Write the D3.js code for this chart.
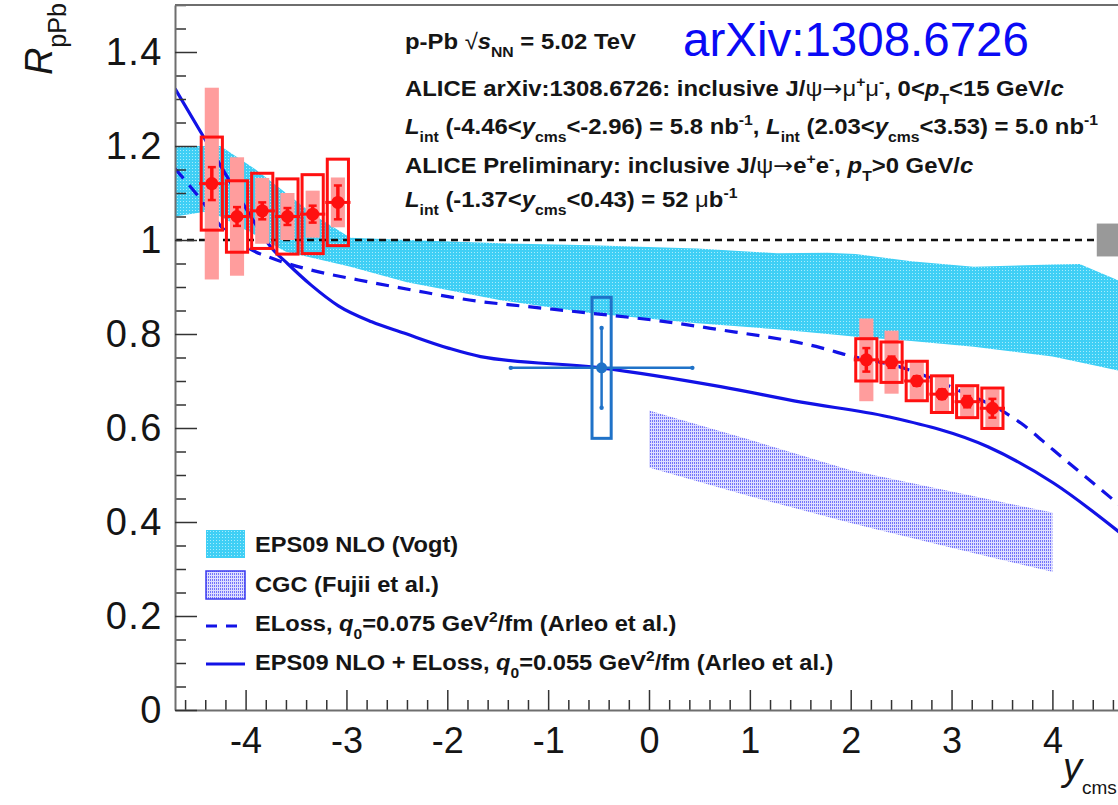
<!DOCTYPE html>
<html>
<head>
<meta charset="utf-8">
<script src="https://cdn.jsdelivr.net/npm/d3@7"></script>
<style>
  html, body { margin: 0; padding: 0; background: #ffffff; }
  svg { display: block; font-family: "Liberation Sans", Arial, Helvetica, sans-serif; }
</style>
</head>
<body>
<svg id="chart" width="1118" height="805"></svg>
<script>
// ---------------- data ----------------
// Axis ticks
const xMajorTicks = [-4, -3, -2, -1, 0, 1, 2, 3, 4];
const yMajorTicks = [0, 0.2, 0.4, 0.6, 0.8, 1.0, 1.2, 1.4];

// EPS09 NLO (Vogt) band
const eps09X     = [-4.7, -4.4, -4.25, -3.9, -3.6, -3.3, -2.96, -2.4, -1.47, -0.57, 0.48, 1.27, 1.77, 2.05, 2.6, 3.22, 4.0, 4.27, 4.7];
const eps09Lower = [1.05, 1.06, 1.05, 1.01, 0.975, 0.96, 0.943, 0.91, 0.872, 0.844, 0.823, 0.81, 0.80, 0.794, 0.785, 0.773, 0.752, 0.74, 0.72];
const eps09Upper = [1.20, 1.20, 1.20, 1.15, 1.10, 1.05, 1.005, 1.0, 0.993, 0.989, 0.982, 0.972, 0.973, 0.97, 0.955, 0.943, 0.948, 0.949, 0.91];

// CGC (Fujii et al.) band
const cgcX     = [0, 1, 2, 3, 4];
const cgcLower = [0.516, 0.455, 0.398, 0.345, 0.294];
const cgcUpper = [0.637, 0.575, 0.51, 0.465, 0.42];

// ELoss q0 = 0.075 (Arleo et al.)
const elossX = [-4.7, -4.44, -4.24, -3.94, -3.75, -3.35, -2.88, -2.36, -1.67, -1.37, -0.57, 0.10, 0.61, 1.70, 1.97, 2.53, 2.76, 3.06, 3.49, 3.69, 4.01, 4.7];
const elossY = [1.152, 1.085, 1.028, 0.979, 0.962, 0.936, 0.915, 0.894, 0.869, 0.862, 0.844, 0.828, 0.812, 0.771, 0.755, 0.727, 0.709, 0.681, 0.638, 0.61, 0.553, 0.43];

// EPS09 NLO + ELoss q0 = 0.055 (Arleo et al.)
const epsElossX = [-4.7, -4.41, -4.14, -3.89, -3.75, -3.58, -3.35, -3.08, -2.75, -2.43, -1.99, -1.67, -0.48, 0.71, 1.51, 2.37, 3.36, 4.01, 4.7];
const epsElossY = [1.322, 1.217, 1.119, 1.030, 0.985, 0.949, 0.904, 0.860, 0.826, 0.802, 0.770, 0.752, 0.728, 0.688, 0.655, 0.624, 0.560, 0.483, 0.372];

// ALICE J/psi -> mu+mu-, backward rapidity
const bwdX       = [-4.335, -4.085, -3.835, -3.585, -3.335, -3.085];
const bwdY       = [1.12, 1.05, 1.062, 1.05, 1.055, 1.08];
const bwdStat    = [0.035, 0.02, 0.018, 0.018, 0.018, 0.036];
const bwdSysUnc  = [0.099, 0.076, 0.08, 0.08, 0.084, 0.092];
const bwdSysCorr = [0.204, 0.126, 0.07, 0.05, 0.05, 0.053];

// ALICE J/psi -> mu+mu-, forward rapidity
const fwdX       = [2.155, 2.405, 2.655, 2.905, 3.155, 3.405];
const fwdY       = [0.745, 0.740, 0.700, 0.672, 0.656, 0.642];
const fwdStat    = [0.025, 0.012, 0.01, 0.01, 0.012, 0.02];
const fwdSysUnc  = [0.045, 0.043, 0.042, 0.039, 0.034, 0.043];
const fwdSysCorr = [0.088, 0.067, 0.04, 0.037, 0.032, 0.04];

// ALICE preliminary J/psi -> e+e-, mid rapidity
const midX      = [-0.47];
const midY      = [0.728];
const midXLow   = [-1.37];
const midXHigh  = [0.43];
const midStat   = [0.085];
const midSys    = [0.15];

// Global normalisation uncertainty
const normUnc = [0.035];

// ---------------- layout ----------------
const svg = d3.select("#chart");
const x = d3.scaleLinear().domain([-4.7, 4.7]).range([175, 1123]);
const y = d3.scaleLinear().domain([0, 1.5]).range([710, 5]);

const binHalf = 0.125, boxHalf = 0.105, corrHalf = 0.07, midBoxHalf = 0.095;
const red = "#ff1010", pink = "#ff9d9d", blueLine = "#1212e6", midBlue = "#1f72c8";
const textColor = "#151515";

const defs = svg.append("defs");
const pCyan = defs.append("pattern").attr("id", "patCyan")
  .attr("width", 3).attr("height", 3).attr("patternUnits", "userSpaceOnUse");
pCyan.append("rect").attr("width", 3).attr("height", 3).attr("fill", "#3fcff5");
pCyan.append("rect").attr("width", 1).attr("height", 1).attr("fill", "#a8ecfc");

const pCgc = defs.append("pattern").attr("id", "patCgc")
  .attr("width", 2).attr("height", 3).attr("patternUnits", "userSpaceOnUse");
pCgc.append("rect").attr("width", 2).attr("height", 3).attr("fill", "#dedeff");
pCgc.append("rect").attr("width", 1).attr("height", 2).attr("fill", "#7474fa");

defs.append("clipPath").attr("id", "frameClip").append("rect")
  .attr("x", x(-4.7)).attr("y", y(1.5)).attr("width", x(4.7) - x(-4.7)).attr("height", y(0) - y(1.5));

const plot = svg.append("g").attr("clip-path", "url(#frameClip)");

// theory bands
const band = d3.area().x(d => x(d[0])).y0(d => y(d[1])).y1(d => y(d[2]));
plot.append("path")
  .datum(eps09X.map((v, i) => [v, eps09Lower[i], eps09Upper[i]]))
  .attr("d", band).attr("fill", "url(#patCyan)");
plot.append("path")
  .datum(cgcX.map((v, i) => [v, cgcLower[i], cgcUpper[i]]))
  .attr("d", band).attr("fill", "url(#patCgc)");

// unity reference line
plot.append("line")
  .attr("x1", x(-4.7)).attr("x2", x(4.7 - 0.27)).attr("y1", y(1)).attr("y2", y(1))
  .attr("stroke", "#111").attr("stroke-width", 2.4).attr("stroke-dasharray", "7,5");

// normalisation box
plot.append("rect")
  .attr("x", x(4.44)).attr("width", x(4.74) - x(4.44))
  .attr("y", y(1 + normUnc[0])).attr("height", y(1 - normUnc[0]) - y(1 + normUnc[0]))
  .attr("fill", "#999999");

// theory curves
const curve = d3.line().x(d => x(d[0])).y(d => y(d[1])).curve(d3.curveMonotoneX);
plot.append("path")
  .datum(elossX.map((v, i) => [v, elossY[i]]))
  .attr("d", curve).attr("fill", "none").attr("stroke", blueLine)
  .attr("stroke-width", 3.2).attr("stroke-dasharray", "13,9");
plot.append("path")
  .datum(epsElossX.map((v, i) => [v, epsElossY[i]]))
  .attr("d", curve).attr("fill", "none").attr("stroke", blueLine).attr("stroke-width", 3.2);

// ALICE dimuon points
function drawSet(xs, ys, stat, sysU, sysC) {
  const g = plot.append("g");
  const pts = xs.map((v, i) => ({ x: v, y: ys[i], s: stat[i], u: sysU[i], c: sysC[i] }));
  g.selectAll("rect.corr").data(pts).join("rect")
    .attr("x", d => x(d.x - corrHalf)).attr("width", d => x(d.x + corrHalf) - x(d.x - corrHalf))
    .attr("y", d => y(d.y + d.c)).attr("height", d => y(d.y - d.c) - y(d.y + d.c))
    .attr("fill", pink);
  g.selectAll("rect.unc").data(pts).join("rect")
    .attr("x", d => x(d.x - boxHalf)).attr("width", d => x(d.x + boxHalf) - x(d.x - boxHalf))
    .attr("y", d => y(d.y + d.u)).attr("height", d => y(d.y - d.u) - y(d.y + d.u))
    .attr("fill", "none").attr("stroke", red).attr("stroke-width", 3);
  g.selectAll("line.bin").data(pts).join("line")
    .attr("x1", d => x(d.x - binHalf)).attr("x2", d => x(d.x + binHalf))
    .attr("y1", d => y(d.y)).attr("y2", d => y(d.y))
    .attr("stroke", red).attr("stroke-width", 3);
  g.selectAll("line.stat").data(pts).join("line")
    .attr("x1", d => x(d.x)).attr("x2", d => x(d.x))
    .attr("y1", d => y(d.y + d.s)).attr("y2", d => y(d.y - d.s))
    .attr("stroke", red).attr("stroke-width", 3.5);
  [1, -1].forEach(sg => {
    g.selectAll(null).data(pts).join("line")
      .attr("x1", d => x(d.x) - 4).attr("x2", d => x(d.x) + 4)
      .attr("y1", d => y(d.y + sg * d.s)).attr("y2", d => y(d.y + sg * d.s))
      .attr("stroke", red).attr("stroke-width", 2.5);
  });
  g.selectAll("circle").data(pts).join("circle")
    .attr("cx", d => x(d.x)).attr("cy", d => y(d.y)).attr("r", 6.5).attr("fill", red);
}
drawSet(bwdX, bwdY, bwdStat, bwdSysUnc, bwdSysCorr);
drawSet(fwdX, fwdY, fwdStat, fwdSysUnc, fwdSysCorr);

// ALICE dielectron point
const mid = midX.map((v, i) => ({ x: v, y: midY[i], lo: midXLow[i], hi: midXHigh[i], s: midStat[i], u: midSys[i] }));
const gm = plot.append("g");
gm.selectAll("rect").data(mid).join("rect")
  .attr("x", d => x(d.x - midBoxHalf)).attr("width", d => x(d.x + midBoxHalf) - x(d.x - midBoxHalf))
  .attr("y", d => y(d.y + d.u)).attr("height", d => y(d.y - d.u) - y(d.y + d.u))
  .attr("fill", "none").attr("stroke", midBlue).attr("stroke-width", 3);
gm.selectAll("line.h").data(mid).join("line")
  .attr("x1", d => x(d.lo)).attr("x2", d => x(d.hi)).attr("y1", d => y(d.y)).attr("y2", d => y(d.y))
  .attr("stroke", midBlue).attr("stroke-width", 2.5);
gm.selectAll("line.v").data(mid).join("line")
  .attr("x1", d => x(d.x)).attr("x2", d => x(d.x)).attr("y1", d => y(d.y + d.s)).attr("y2", d => y(d.y - d.s))
  .attr("stroke", midBlue).attr("stroke-width", 2.5);
mid.forEach(d => {
  [[x(d.lo), y(d.y)], [x(d.hi), y(d.y)], [x(d.x), y(d.y + d.s)], [x(d.x), y(d.y - d.s)]].forEach(p => {
    gm.append("circle").attr("cx", p[0]).attr("cy", p[1]).attr("r", 2.2).attr("fill", midBlue);
  });
});
gm.selectAll("circle.m").data(mid).join("circle")
  .attr("cx", d => x(d.x)).attr("cy", d => y(d.y)).attr("r", 5.5).attr("fill", midBlue);

// ---------------- axes ----------------
const axisColor = "#6e6e6e";
const gx = svg.append("g").attr("transform", `translate(0,${y(0)})`);
gx.call(d3.axisBottom(x).tickValues(x.ticks(47).filter(v => Math.abs(v - Math.round(v)) > 1e-6))
  .tickSize(-10).tickSizeOuter(0).tickFormat(""));
gx.call(g => g.select(".domain").remove());
const gx2 = svg.append("g").attr("transform", `translate(0,${y(0)})`);
gx2.call(d3.axisBottom(x).tickValues(xMajorTicks).tickSize(-20).tickSizeOuter(0).tickPadding(17)
  .tickFormat(d => String(d)));
gx2.select(".domain").attr("stroke", axisColor).attr("stroke-width", 2);
gx2.selectAll("text").attr("font-size", 36).attr("fill", textColor)
  .attr("font-family", '"Liberation Sans", Arial, sans-serif');

const gy = svg.append("g").attr("transform", `translate(${x(-4.7)},0)`);
gy.call(d3.axisLeft(y).tickValues(y.ticks(30).filter(v => Math.abs(v * 5 - Math.round(v * 5)) > 1e-6))
  .tickSize(-11).tickSizeOuter(0).tickFormat(""));
gy.call(g => g.select(".domain").remove());
const gy2 = svg.append("g").attr("transform", `translate(${x(-4.7)},0)`);
gy2.call(d3.axisLeft(y).tickValues(yMajorTicks).tickSize(-22).tickSizeOuter(0).tickPadding(12)
  .tickFormat(d => String(+d.toFixed(1))));
gy2.select(".domain").attr("stroke", axisColor).attr("stroke-width", 2);
gy2.selectAll("text").attr("font-size", 38).attr("fill", textColor).attr("letter-spacing", 1.5)
  .attr("font-family", '"Liberation Sans", Arial, sans-serif');
svg.selectAll("g .tick line").attr("stroke", "#333").attr("stroke-width", 1.5);

// frame top edge
svg.append("line").attr("x1", x(-4.7)).attr("x2", 1118).attr("y1", y(1.5)).attr("y2", y(1.5))
  .attr("stroke", axisColor).attr("stroke-width", 2);

// ---------------- text helpers ----------------
// parts: [text, flags]; flags: i = italic, b = subscript, p = superscript, n = normal weight, s = symbol font
function rich(parent, px, py, parts, size, opts = {}) {
  const sx = opts.sx || 1;
  const t = parent.append("text")
    .attr("transform", opts.transform || `translate(${px},${py}) scale(${sx},1)`)
    .attr("font-size", size).attr("fill", opts.fill || textColor)
    .attr("font-weight", opts.weight || "bold");
  if (opts.anchor) t.attr("text-anchor", opts.anchor);
  let cur = 0;
  parts.forEach(([str, f = ""]) => {
    const target = f.includes("b") ? size * 0.36 : f.includes("p") ? -size * 0.42 : 0;
    const sp = t.append("tspan").attr("dy", target - cur).text(str);
    cur = target;
    if (f.includes("b") || f.includes("p")) sp.attr("font-size", size * 0.66);
    if (f.includes("i")) sp.attr("font-style", "italic");
    if (f.includes("n")) sp.attr("font-weight", "normal");
    if (f.includes("s")) sp.attr("font-family", '"DejaVu Sans", sans-serif').attr("font-weight", "normal");
  });
  return t;
}

// ---------------- header text ----------------
const hs = 22, hsx = 1.085;
rich(svg, 405, 49, [["p-Pb "], ["\u221A", "n"], ["s", "i"], ["NN", "b"], [" = 5.02 TeV"]], hs, { sx: hsx });
svg.append("text").attr("x", 683).attr("y", 56).attr("font-size", 47.5).attr("fill", "#0a0af5")
  .text("arXiv:1308.6726");
rich(svg, 405, 96, [["ALICE arXiv:1308.6726: inclusive J/"], ["\u03C8", "n"], ["\u2192", "s"], ["\u03BC", "n"], ["+", "p"], ["\u03BC", "n"], ["-", "p"],
  [", 0<"], ["p", "i"], ["T", "b"], ["<15 GeV/"], ["c", "i"]], hs, { sx: hsx });
rich(svg, 405, 134, [["L", "i"], ["int", "b"], [" (-4.46<"], ["y", "i"], ["cms", "b"], ["<-2.96) = 5.8 nb"], ["-1", "p"],
  [", "], ["L", "i"], ["int", "b"], [" (2.03<"], ["y", "i"], ["cms", "b"], ["<3.53) = 5.0 nb"], ["-1", "p"]], hs, { sx: hsx });
rich(svg, 405, 173, [["ALICE Preliminary: inclusive J/"], ["\u03C8", "n"], ["\u2192", "s"], ["e"], ["+", "p"], ["e"], ["-", "p"],
  [", "], ["p", "i"], ["T", "b"], [">0 GeV/"], ["c", "i"]], hs, { sx: hsx });
rich(svg, 405, 207, [["L", "i"], ["int", "b"], [" (-1.37<"], ["y", "i"], ["cms", "b"], ["<0.43) = 52 "], ["\u03BC", "n"], ["b"], ["-1", "p"]], hs, { sx: hsx });

// ---------------- legend ----------------
const lg = svg.append("g");
const lgX0 = 206, lgX1 = 245, lgText = 255, ls = 21.5, lsx = 1.1;
lg.append("rect").attr("x", lgX0).attr("y", 530).attr("width", lgX1 - lgX0).attr("height", 28).attr("fill", "url(#patCyan)");
lg.append("rect").attr("x", lgX0).attr("y", 571).attr("width", lgX1 - lgX0).attr("height", 28)
  .attr("fill", "url(#patCgc)").attr("stroke", "#3b3bf0").attr("stroke-width", 1.5);
lg.append("line").attr("x1", lgX0).attr("x2", lgX1).attr("y1", 626).attr("y2", 626)
  .attr("stroke", blueLine).attr("stroke-width", 3).attr("stroke-dasharray", "11,9");
lg.append("line").attr("x1", lgX0).attr("x2", lgX1).attr("y1", 664).attr("y2", 664)
  .attr("stroke", blueLine).attr("stroke-width", 3);
rich(lg, lgText, 552, [["EPS09 NLO (Vogt)"]], ls, { sx: lsx });
rich(lg, lgText, 592, [["CGC (Fujii et al.)"]], ls, { sx: lsx });
rich(lg, lgText, 631, [["ELoss, "], ["q", "i"], ["0", "b"], ["=0.075 GeV"], ["2", "p"], ["/fm (Arleo et al.)"]], ls, { sx: lsx });
rich(lg, lgText, 670, [["EPS09 NLO + ELoss, "], ["q", "i"], ["0", "b"], ["=0.055 GeV"], ["2", "p"], ["/fm (Arleo et al.)"]], ls, { sx: lsx });

// ---------------- axis titles ----------------
rich(svg, 0, 0, [["R", "i"], ["pPb", "b"]], 38, { weight: "normal", anchor: "end", transform: "translate(52,3) rotate(-90)" });
const yt = svg.append("text").attr("x", 1063).attr("y", 780).attr("font-size", 38).attr("fill", textColor);
yt.append("tspan").attr("font-style", "italic").text("y");
yt.append("tspan").attr("dy", 14).attr("font-size", 19).text("cms");
</script>
</body>
</html>
